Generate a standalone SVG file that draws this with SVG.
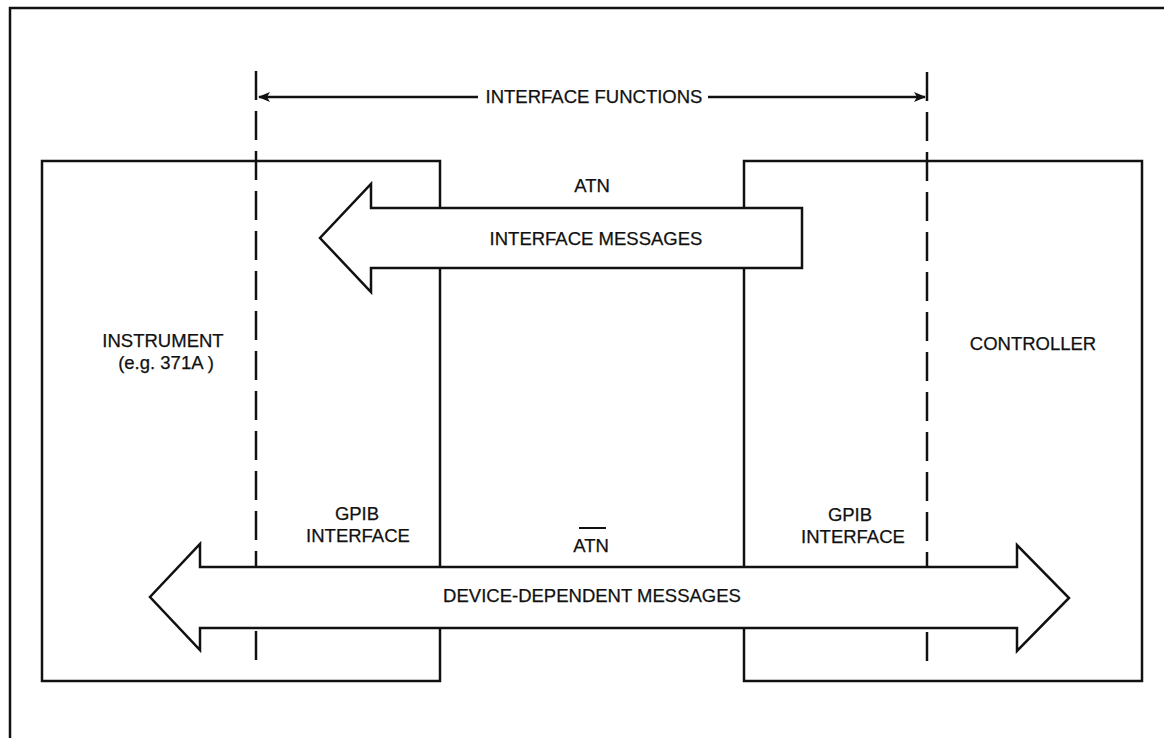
<svg xmlns="http://www.w3.org/2000/svg" width="1164" height="738" viewBox="0 0 1164 738">
<style>
.ln{stroke:#111;stroke-width:2.5;fill:none}
.box{stroke:#111;stroke-width:2.5;fill:none}
.arr{stroke:#111;stroke-width:2.5;fill:#fff;stroke-linejoin:miter}
.dash{stroke:#111;stroke-width:2.5;fill:none;stroke-dasharray:29 11}
text{font-family:"Liberation Sans",Arial,sans-serif;font-size:18.5px;fill:#111;stroke:#111;stroke-width:0.25;text-anchor:middle}
</style>
<defs>
<marker id="ah" viewBox="0 0 12 10" refX="11" refY="5" markerWidth="12" markerHeight="10" markerUnits="userSpaceOnUse" orient="auto-start-reverse">
<path d="M0,0 L12,5 L0,10 L3,5 Z" fill="#111"/>
</marker>
</defs>
<rect width="1164" height="738" fill="#fff"/>
<g id="frame">
<polyline class="ln" points="10,738 10,8 1164,8"/>
</g>
<g id="instrument">
<rect class="box" x="42" y="161" width="398" height="520"/>
<text x="163" y="347">INSTRUMENT</text>
<text x="166" y="369">(e.g. 371A )</text>
<text x="357" y="520">GPIB</text>
<text x="358" y="542">INTERFACE</text>
</g>
<g id="controller">
<rect class="box" x="744" y="161" width="398" height="520"/>
<text x="1033" y="350">CONTROLLER</text>
<text x="850" y="521">GPIB</text>
<text x="853" y="543">INTERFACE</text>
</g>
<g id="connectors">
<line class="dash" x1="256" y1="71" x2="256" y2="670"/>
<line class="dash" x1="927" y1="72" x2="927" y2="670"/>
<line class="ln" x1="478" y1="97" x2="259" y2="97" marker-end="url(#ah)"/>
<line class="ln" x1="708" y1="97" x2="925" y2="97" marker-end="url(#ah)"/>
<text x="594" y="103">INTERFACE FUNCTIONS</text>
</g>
<g id="interface-messages">
<polygon class="arr" points="802,208 371,208 371,184 320,238 371,292 371,268 802,268"/>
<text x="592" y="192">ATN</text>
<text x="596" y="245">INTERFACE MESSAGES</text>
</g>
<g id="device-messages">
<polygon class="arr" points="200,567 200,544 150,597 200,650 200,628 1017,628 1017,651 1069,598 1017,545 1017,567"/>
<text x="591" y="552">ATN</text>
<line x1="579" y1="528" x2="606" y2="528" stroke="#111" stroke-width="2"/>
<text x="592" y="602">DEVICE-DEPENDENT MESSAGES</text>
</g>
</svg>
